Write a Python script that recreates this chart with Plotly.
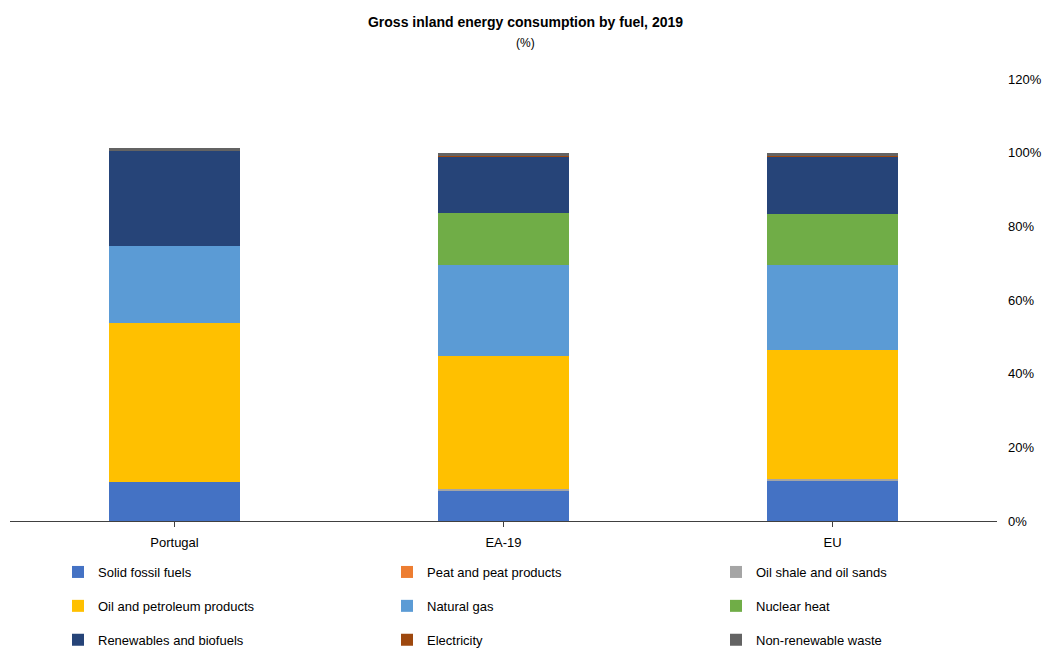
import plotly.graph_objects as go

categories = ["Portugal", "EA-19", "EU"]

series_names = [
    "Solid fossil fuels", "Peat and peat products", "Oil shale and oil sands",
    "Oil and petroleum products", "Natural gas", "Nuclear heat",
    "Renewables and biofuels", "Electricity", "Non-renewable waste",
]
solid_fossil = [10.6, 8.2, 11.1]
peat = [0.0, 0.02, 0.02]
oil_shale = [0.0, 0.4, 0.4]
oil_petroleum = [43.2, 36.2, 35.0]
natural_gas = [20.9, 24.8, 23.1]
nuclear = [0.0, 14.1, 13.6]
renewables = [25.8, 15.2, 15.7]
electricity = [0.0, 0.2, 0.2]
non_renewable_waste = [0.7, 0.8, 0.8]

values = [solid_fossil, peat, oil_shale, oil_petroleum, natural_gas, nuclear,
          renewables, electricity, non_renewable_waste]
colors = ["#4472C4", "#ED7D31", "#A5A5A5", "#FFC000", "#5B9BD5", "#70AD47",
          "#264478", "#9E480E", "#636363"]

y_ticks = [0, 20, 40, 60, 80, 100, 120]
y_tick_labels = ["0%", "20%", "40%", "60%", "80%", "100%", "120%"]

legend_ids = ["legend", "legend2", "legend3"]

fig = go.Figure()
for i, (name, vals, col) in enumerate(zip(series_names, values, colors)):
    fig.add_trace(go.Bar(
        x=categories, y=vals, name=name,
        marker=dict(color=col, line=dict(width=0)),
        legend=legend_ids[i % 3], legendgroup=name,
    ))

font = "Liberation Sans, Arial, sans-serif"
W, H = 1051, 649
leg_common = dict(
    orientation="v", xref="container", xanchor="left",
    yref="container", yanchor="top", y=1 - 557 / H,
    font=dict(family=font, size=13, color="#000000"),
    bgcolor="rgba(0,0,0,0)", itemwidth=30, traceorder="grouped",
    tracegroupgap=14,
)
fig.update_layout(
    width=W, height=H,
    barmode="stack", bargap=0.6,
    plot_bgcolor="white", paper_bgcolor="white",
    margin=dict(l=10, r=54, t=79, b=128, autoexpand=False),
    font=dict(family=font, size=13, color="#000000"),
    title=dict(
        text="<b>Gross inland energy consumption by fuel, 2019</b>",
        x=0.5, xanchor="center", xref="container",
        y=1 - 22 / H, yanchor="middle", yref="container",
        font=dict(family=font, size=14, color="#000000"),
    ),
    annotations=[dict(
        text="(%)", xref="paper", yref="paper", x=0.5 + (525 - 10 - 987 / 2) / 987,
        y=(521 - 43) / 442, xanchor="center", yanchor="middle", showarrow=False,
        font=dict(family=font, size=12, color="#000000"),
    )],
    xaxis=dict(
        showline=True, linecolor="#404040", linewidth=1,
        ticks="outside", ticklen=5, tickcolor="#404040",
        tickfont=dict(family=font, size=13, color="#000000"),
        showgrid=False, ticklabelstandoff=4,
    ),
    yaxis=dict(
        side="right", range=[0, 120], tickvals=y_ticks, ticktext=y_tick_labels,
        showgrid=False, showline=False, zeroline=False,
        tickfont=dict(family=font, size=13, color="#000000"),
        ticks="", ticklabelstandoff=10,
    ),
    legend=dict(**leg_common, x=58 / W),
    legend2=dict(**leg_common, x=387 / W),
    legend3=dict(**leg_common, x=716 / W),
    showlegend=True,
)

fig.write_html("out.html")
